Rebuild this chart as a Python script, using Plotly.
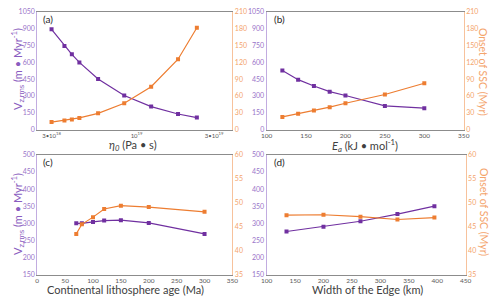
import plotly.graph_objects as go

# ---- data ----
visc = [3.0e18, 3.6e18, 4.0e18, 4.45e18, 5.8e18, 8.4e18, 1.23e19, 1.8e19, 2.35e19]
visc_v = [894, 746, 671, 599, 451, 304, 205, 139, 107]
visc_onset = [13.3, 16.2, 17.9, 20.8, 28.9, 46.9, 76.4, 125.5, 181.7]

ea = [120, 140, 160, 180, 200, 250, 300]
ea_v = [526, 445, 388, 338, 304, 211, 191]
ea_onset = [22.6, 28.3, 34.1, 39.9, 46.9, 62.5, 82.7]

age = [70, 80, 100, 120, 150, 200, 300]
age_v = [300, 300, 304, 308, 309, 301, 269]
age_onset = [43.5, 45.5, 47.0, 48.7, 49.4, 49.1, 48.1]

width = [135, 200, 265, 330, 395]
width_v = [276, 290, 306, 327, 350]
width_onset = [47.4, 47.5, 47.1, 46.5, 46.9]

visc_ticks = [3e18, 1e19, 3e19]
visc_ticktext = ["3•10<sup>18</sup>", "10<sup>19</sup>", "3•10<sup>19</sup>"]

PURPLE = "#7030A0"
ORANGE = "#ED7D31"
PT = "#9a74c9"   # purple tick text
OT = "#f4a46c"   # orange tick text
PL = "#c2ace0"   # purple axis line
OL = "#f7c29c"   # orange axis line
GRAY = "#8c8c8c"
FONT = "Lato"

W, H = 500, 299
def px(x):
    return x / W
def py(y):
    return 1 - y / H

fig = go.Figure()

panels = [
    (visc, visc_v, visc_onset),
    (ea, ea_v, ea_onset),
    (age, age_v, age_onset),
    (width, width_v, width_onset),
]
for i, (xs, v, o) in enumerate(panels, start=1):
    xa = "x" if i == 1 else f"x{i}"
    yl = 2 * i - 1
    yr = 2 * i
    yla = "y" if yl == 1 else f"y{yl}"
    fig.add_trace(go.Scatter(x=xs, y=v, xaxis=xa, yaxis=yla, mode="lines+markers",
                             line=dict(color=PURPLE, width=1.2),
                             marker=dict(color=PURPLE, size=4, symbol="square"),
                             showlegend=False))
    fig.add_trace(go.Scatter(x=xs, y=o, xaxis=xa, yaxis=f"y{yr}", mode="lines+markers",
                             line=dict(color=ORANGE, width=1.2),
                             marker=dict(color=ORANGE, size=4, symbol="square"),
                             showlegend=False))

xdom = {1: [0.064, 0.464], 2: [0.534, 0.938], 3: [0.064, 0.464], 4: [0.534, 0.942]}
ydom = {1: [py(128), py(7)], 2: [py(128), py(7)], 3: [py(277), py(154)], 4: [py(277), py(154)]}

layout = dict(width=W, height=H, margin=dict(l=0, r=0, t=0, b=0),
              paper_bgcolor="white", plot_bgcolor="white",
              font=dict(family=FONT))

for i in range(1, 5):
    xk = "xaxis" if i == 1 else f"xaxis{i}"
    yl = 2 * i - 1
    yr = 2 * i
    ylk = "yaxis" if yl == 1 else f"yaxis{yl}"
    yla = "y" if yl == 1 else f"y{yl}"
    xa = "x" if i == 1 else f"x{i}"
    xcfg = dict(domain=xdom[i], anchor=yla, showline=True, linecolor=GRAY, linewidth=1,
                mirror=True, showgrid=False, zeroline=False, ticks="",
                ticklabelstandoff=0,
                tickfont=dict(family=FONT, size=6.5, color="#595959"))
    if i == 1:
        xcfg.update(type="log", range=[18.389, 19.59], tickmode="array",
                    tickvals=visc_ticks, ticktext=visc_ticktext,
                    tickfont=dict(family=FONT, size=6, color="#595959"))
    elif i == 2:
        xcfg.update(range=[100, 350], dtick=50, tick0=0)
    elif i == 3:
        xcfg.update(range=[0, 350], dtick=50, tick0=0)
    else:
        xcfg.update(range=[100, 450], dtick=50, tick0=0)
    layout[xk] = xcfg
    if i <= 2:
        lr, ld, rr, rd = [0, 1050], 150, [0, 210], 30
    else:
        lr, ld, rr, rd = [150, 500], 50, [35, 60], 5
    layout[ylk] = dict(domain=ydom[i], anchor=xa, range=lr, dtick=ld, tick0=0,
                       showline=True, linecolor=PL, linewidth=1, showgrid=False,
                       zeroline=False, ticks="", side="left",
                       tickfont=dict(family=FONT, size=7, color=PT))
    layout[f"yaxis{yr}"] = dict(overlaying=yla, anchor=xa, range=rr, dtick=rd, tick0=0,
                                side="right", showline=True, linecolor=OL, linewidth=1,
                                showgrid=False, zeroline=False, ticks="",
                                tickfont=dict(family=FONT, size=7, color=OT))

fig.update_layout(**layout)

ann = []
def add(text, x, y, size, color, angle=0, xanchor="center"):
    ann.append(dict(text=text, x=px(x), y=py(y), xref="paper", yref="paper",
                    showarrow=False, textangle=angle, xanchor=xanchor, yanchor="middle",
                    font=dict(family=FONT, size=size, color=color)))

# panel labels
add("(a)", 36, 14, 10, "#262626", xanchor="left")
add("(b)", 273, 14, 10, "#262626", xanchor="left")
add("(c)", 36, 161, 10, "#262626", xanchor="left")
add("(d)", 273, 161, 10, "#262626", xanchor="left")

# axis titles
add("<i>η<sub>0</sub></i> (Pa • s)", 130, 144, 11, "#404040")
add("<i>E<sub>a</sub></i> (kJ • mol<sup>-1</sup>)", 368, 144, 11, "#404040")
add("Continental lithosphere age (Ma)", 122, 292, 11, "#404040")
add("Width of the Edge (km)", 370, 292, 11, "#404040")
vt = "V<sub>z,rms</sub> (m • Myr<sup>-1</sup>)"
add(vt, 12, 66, 11, "#8a5cc0", angle=-90)
add(vt, 12, 215, 11, "#8a5cc0", angle=-90)
add("Onset of SSC (Myr)", 489, 69, 10.5, "#f4a46c", angle=90)
add("Onset of SSC (Myr)", 489, 213, 10.5, "#f4a46c", angle=90)

fig.update_layout(annotations=ann)
fig.write_html("out.html", config={"displayModeBar": False},
               post_script="document.body.style.margin='0';document.body.style.overflow='hidden';")
